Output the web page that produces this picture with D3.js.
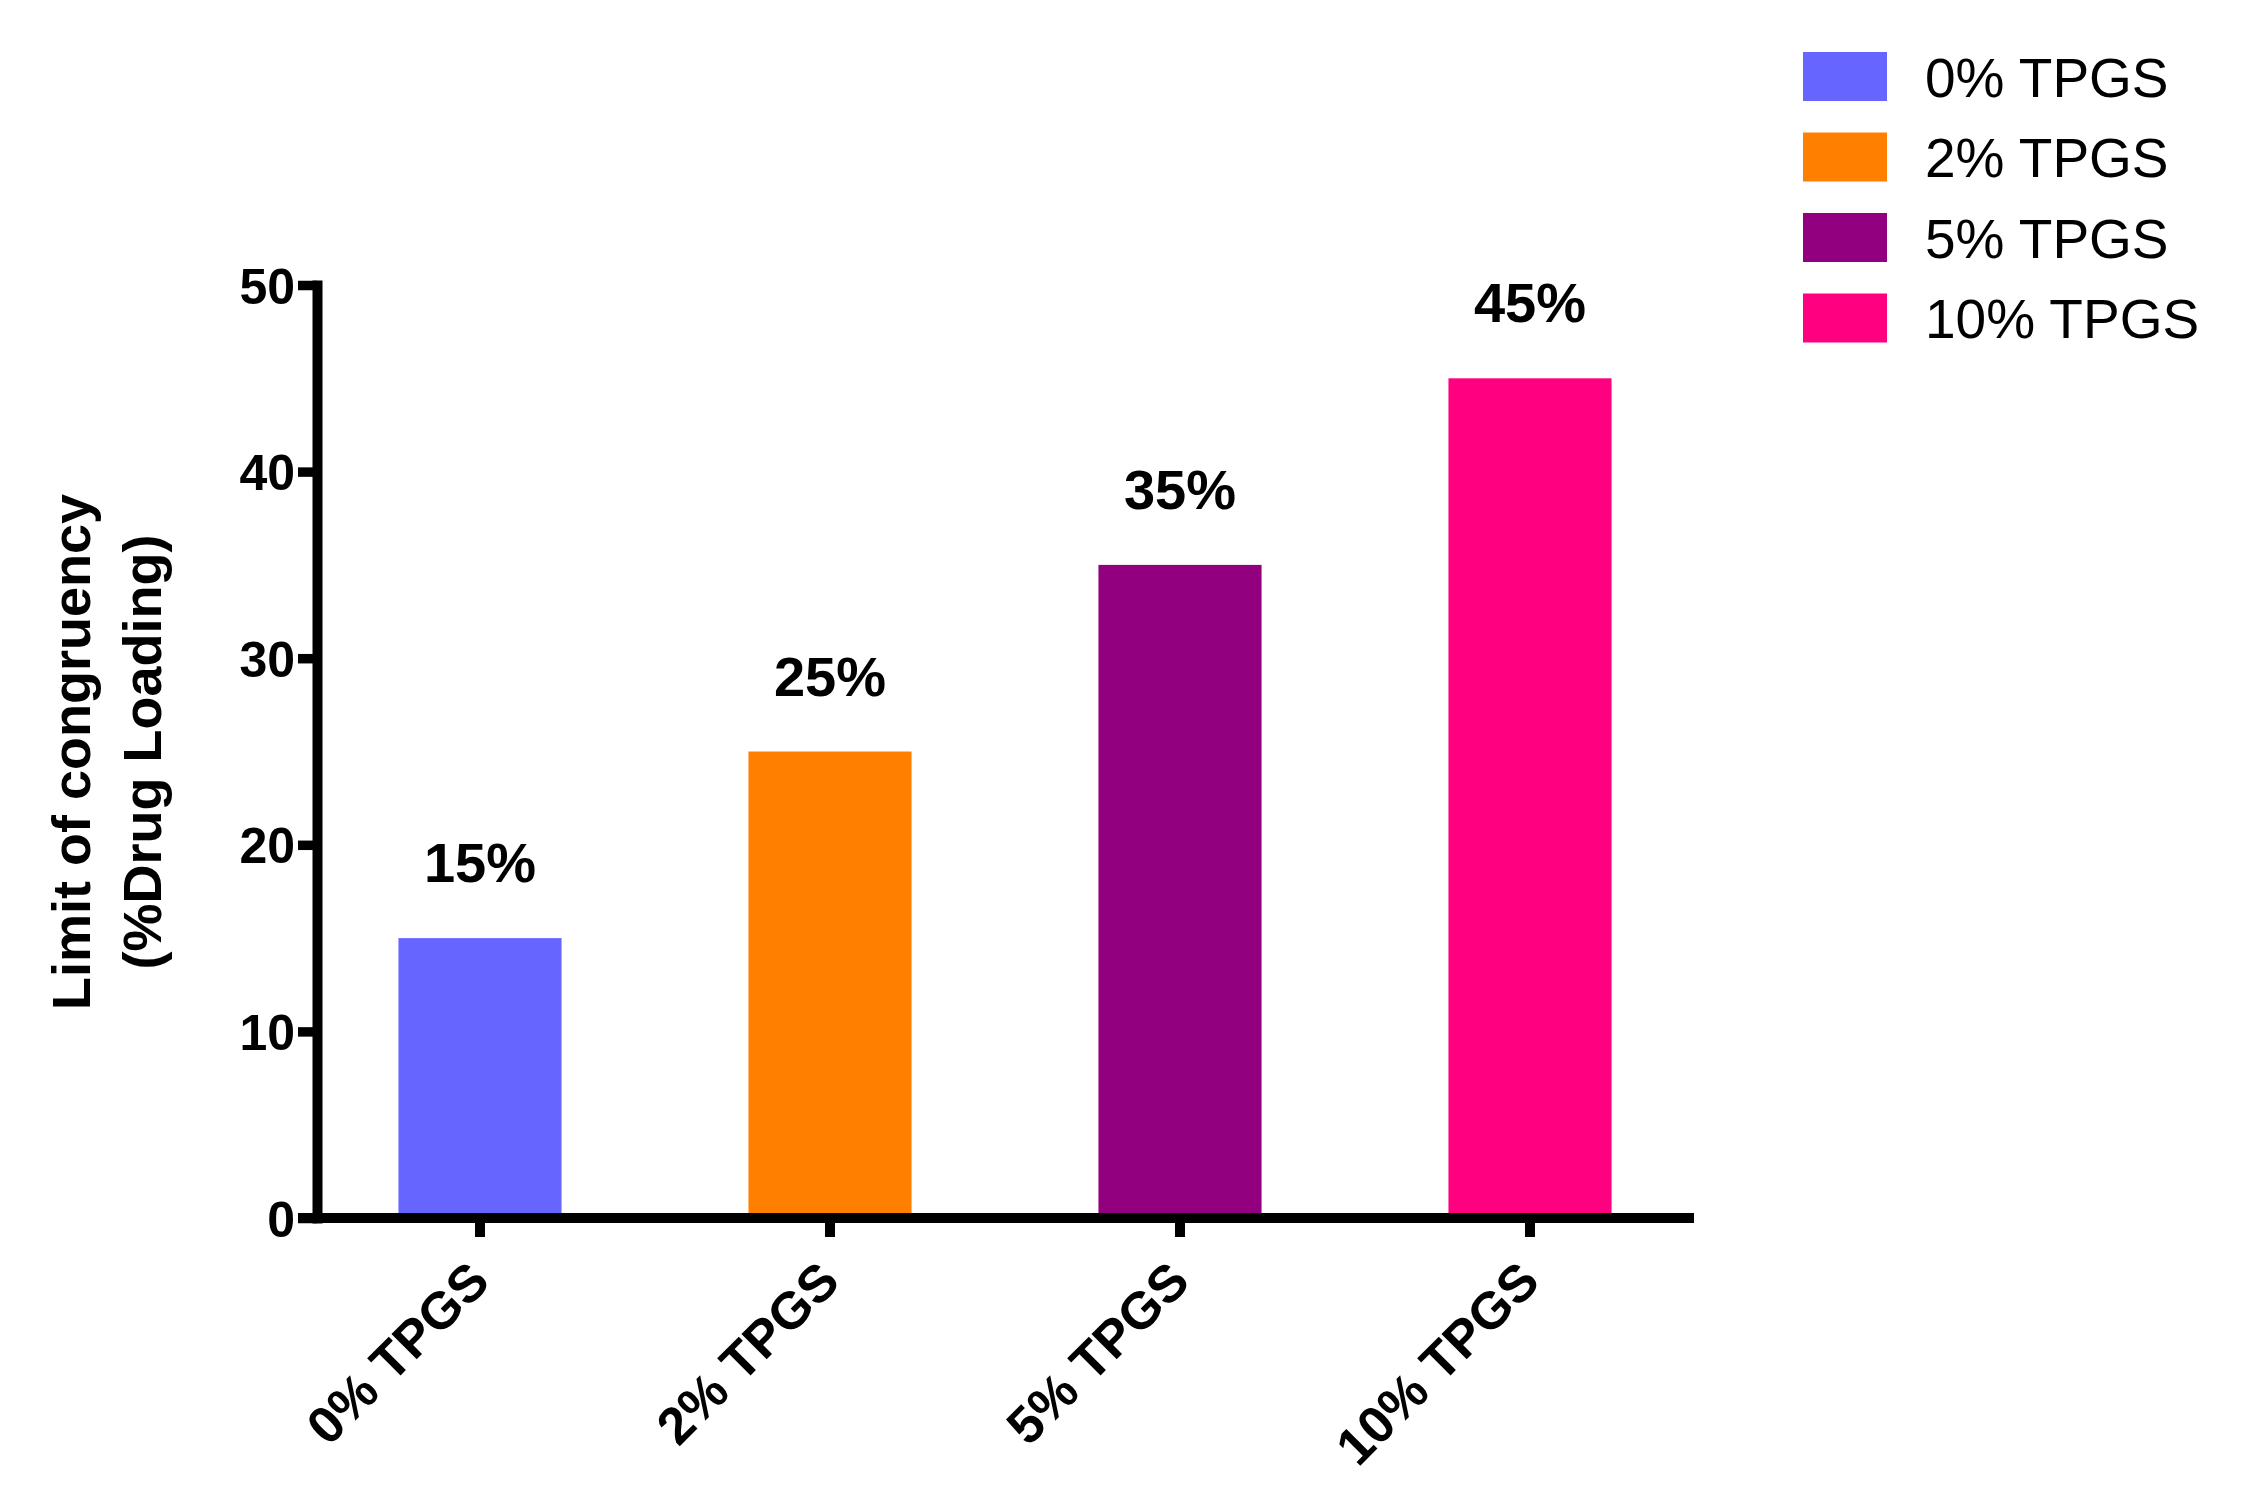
<!DOCTYPE html>
<html>
<head>
<meta charset="utf-8">
<script src="https://cdn.jsdelivr.net/npm/d3@7"></script>
<style>
  html, body { margin: 0; padding: 0; background: #fff; }
  svg { display: block; font-family: "Liberation Sans", Arial, Helvetica, sans-serif; }
</style>
</head>
<body>
<svg id="chart" width="2244" height="1500"></svg>
<script>
// data
const categories = ['0% TPGS', '2% TPGS', '5% TPGS', '10% TPGS'];
const values = [15, 25, 35, 45];
const valueLabels = ['15%', '25%', '35%', '45%'];
const colors = ['#6666ff', '#ff8000', '#920080', '#ff0080'];
const yTicks = [0, 10, 20, 30, 40, 50];
const yTitle = ['Limit of congruency', '(%Drug Loading)'];

const svg = d3.select('#chart');

const x = d3.scaleBand()
  .domain(categories)
  .range([305, 1705])
  .paddingInner(0.534)
  .paddingOuter(0.267);

const y = d3.scaleLinear().domain([0, 50]).range([1218, 285]);

// bars
svg.append('g')
  .selectAll('rect')
  .data(categories)
  .join('rect')
  .attr('x', (d) => x(d))
  .attr('width', x.bandwidth())
  .attr('y', (d, i) => y(values[i]))
  .attr('height', (d, i) => y(0) - y(values[i]))
  .attr('fill', (d, i) => colors[i]);

// value labels
svg.append('g')
  .selectAll('text')
  .data(categories)
  .join('text')
  .attr('x', (d) => x(d) + x.bandwidth() / 2)
  .attr('y', (d, i) => y(values[i]) - 56)
  .attr('text-anchor', 'middle')
  .attr('font-size', 56)
  .attr('font-weight', 'bold')
  .text((d, i) => valueLabels[i]);

// y axis
const yAxis = svg.append('g')
  .attr('transform', 'translate(317,0)')
  .call(d3.axisLeft(y).tickValues(yTicks).tickSize(19).tickSizeOuter(0).tickPadding(3));
yAxis.select('.domain').attr('stroke', '#000').attr('stroke-width', 10).attr('stroke-linecap', 'square');
yAxis.selectAll('.tick line').attr('stroke', '#000').attr('stroke-width', 9.5);
yAxis.selectAll('.tick text')
  .attr('font-size', 50)
  .attr('font-weight', 'bold')
  .attr('fill', '#000')
  .attr('font-family', '"Liberation Sans", Arial, sans-serif')
  .attr('dy', '0.36em');

// x axis
const xAxis = svg.append('g')
  .attr('transform', 'translate(0,1218)')
  .call(d3.axisBottom(x).tickSize(19).tickSizeOuter(0));
xAxis.select('.domain').remove();
xAxis.selectAll('.tick line').attr('stroke', '#000').attr('stroke-width', 10);
xAxis.selectAll('.tick text')
  .attr('font-size', 52)
  .attr('font-weight', 'bold')
  .attr('fill', '#000')
  .attr('font-family', '"Liberation Sans", Arial, sans-serif')
  .attr('text-anchor', 'end')
  .attr('dy', null)
  .attr('y', null)
  .attr('transform', 'translate(12,66) rotate(-45)');
xAxis.append('line')
  .attr('x1', 298)
  .attr('x2', 1694)
  .attr('stroke', '#000')
  .attr('stroke-width', 10);

// y title
const title = svg.append('text')
  .attr('transform', 'translate(0,752) rotate(-90)')
  .attr('text-anchor', 'middle')
  .attr('font-size', 54)
  .attr('font-weight', 'bold');
title.selectAll('tspan')
  .data(yTitle)
  .join('tspan')
  .attr('x', 0)
  .attr('y', (d, i) => 90 + i * 71)
  .text((d) => d);

// legend
const legend = svg.append('g')
  .selectAll('g')
  .data(categories)
  .join('g')
  .attr('transform', (d, i) => `translate(1803,${52 + i * 80.5})`);
legend.append('rect')
  .attr('width', 84)
  .attr('height', 49)
  .attr('fill', (d, i) => colors[i]);
legend.append('text')
  .attr('x', 122)
  .attr('y', 24.5 + 20)
  .attr('font-size', 55)
  .text((d) => d);
</script>
</body>
</html>
